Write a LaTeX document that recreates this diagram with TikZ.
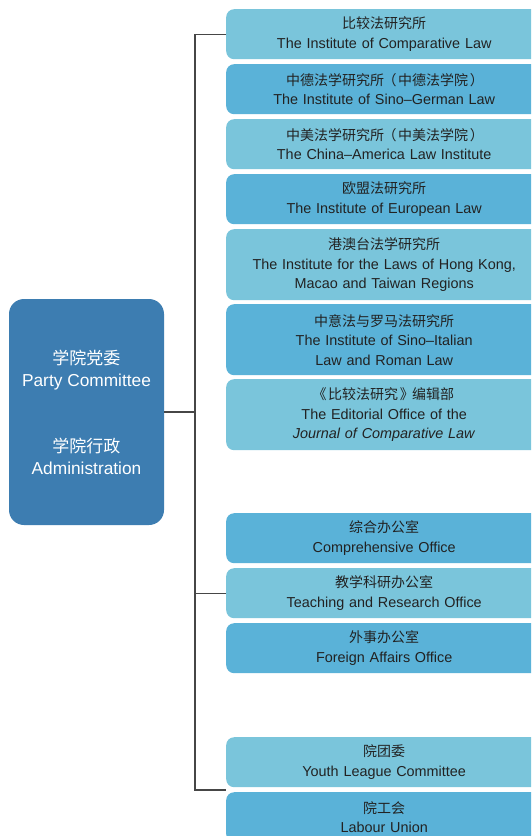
\documentclass[tikz,border=0pt]{standalone}
\usepackage{fontspec}
\setmainfont{Liberation Sans}
\newfontfamily\cjk{Noto Sans CJK SC}
\definecolor{leftblue}{RGB}{61,125,177}
\definecolor{lightbox}{RGB}{122,197,219}
\definecolor{darkbox}{RGB}{90,178,216}
\definecolor{txt}{RGB}{34,34,34}
\definecolor{conncol}{RGB}{70,70,70}
\newcommand\zhtxt[1]{{\cjk\fontsize{14}{19.5}\selectfont #1}}
\newcommand\zhbig[1]{{\cjk\fontsize{17}{22}\selectfont #1}}
\newcommand\lpar[1]{\kern-0.12em#1\kern0.12em}
\newcommand\rpar[1]{\kern0.12em#1\kern-0.12em}
\tikzset{
  rbox/.style={rounded corners=8pt, minimum width=316pt, text width=300pt, align=center,
    inner sep=0pt, anchor=north west, text=txt, font=\fontsize{14.4}{19.5}\selectfont},
  lightb/.style={rbox, fill=lightbox, minimum height=50pt},
  darkb/.style={rbox, fill=darkbox, minimum height=50pt},
  lbox/.style={rounded corners=15pt, fill=leftblue, text=white, minimum width=155pt,
    minimum height=226pt, align=center, inner sep=0pt, font=\fontsize{17.3}{22}\selectfont},
  conn/.style={draw=conncol, line width=1.4pt}
}
\begin{document}
\begin{tikzpicture}[x=1pt,y=-1pt]
\clip (0,0) rectangle (531,836);
\fill[white] (0,0) rectangle (531,836);
\node[lbox] (pc) at (86.5,412) {\zhbig{学院党委}\\Party Committee\\[44pt]\zhbig{学院行政}\\Administration};

\node[lightb] (b1) at (226,9) {\zhtxt{比较法研究所}\\The Institute of Comparative Law};
\node[darkb] (b2) at (226,64) {\zhtxt{中德法学研究所\lpar{（}中德法学院\rpar{）}}\\The Institute of Sino--German Law};
\node[lightb] (b3) at (226,119) {\zhtxt{中美法学研究所\lpar{（}中美法学院\rpar{）}}\\The China--America Law Institute};
\node[darkb] (b4) at (226,174) {\zhtxt{欧盟法研究所}\\The Institute of European Law};
\node[lightb, minimum height=71pt] (b5) at (226,229) {\zhtxt{港澳台法学研究所}\\The Institute for the Laws of Hong Kong,\\Macao and Taiwan Regions};
\node[darkb, minimum height=71pt] (b6) at (226,304) {\zhtxt{中意法与罗马法研究所}\\The Institute of Sino--Italian\\Law and Roman Law};
\node[lightb, minimum height=71pt] (b7) at (226,379) {\zhtxt{\lpar{《}比较法研究\rpar{》}编辑部}\\The Editorial Office of the\\\textit{Journal of Comparative Law}};

\node[darkb] (b8) at (226,513) {\zhtxt{综合办公室}\\Comprehensive Office};
\node[lightb] (b9) at (226,568) {\zhtxt{教学科研办公室}\\Teaching and Research Office};
\node[darkb] (b10) at (226,623) {\zhtxt{外事办公室}\\Foreign Affairs Office};

\node[lightb] (b11) at (226,737) {\zhtxt{院团委}\\Youth League Committee};
\node[darkb] (b12) at (226,792) {\zhtxt{院工会}\\Labour Union};

\coordinate (sp) at (195,0);
\coordinate (bend) at (226,790);
\draw[conn] (b1.west) -| (sp |- bend) -- (bend);
\draw[conn] (pc.east) -- (pc.east -| sp);
\draw[conn] (b9.west) -- (b9.west -| sp);
\end{tikzpicture}
\end{document}
